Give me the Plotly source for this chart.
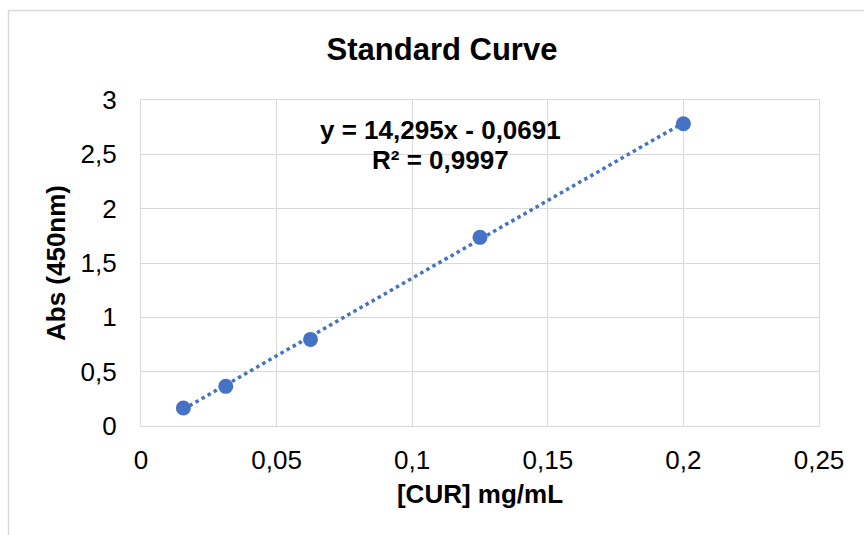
import plotly.graph_objects as go

# Data
conc_mg_ml = [0.015625, 0.03125, 0.0625, 0.125, 0.2]
abs_450 = [0.166, 0.365, 0.797, 1.736, 2.782]

# Linear trendline coefficients shown on the chart
trend_slope = 14.295
trend_intercept = -0.0691
r_squared = 0.9997

x_tickvals = [0, 0.05, 0.1, 0.15, 0.2, 0.25]
x_ticktext = ["0", "0,05", "0,1", "0,15", "0,2", "0,25"]
y_tickvals = [0, 0.5, 1, 1.5, 2, 2.5, 3]
y_ticktext = ["0", "0,5", "1", "1,5", "2", "2,5", "3"]

FONT = "Liberation Sans, Arial, sans-serif"
BLUE = "#4472C4"
GRID = "#D9D9D9"

trend_x = [min(conc_mg_ml), max(conc_mg_ml)]
trend_y = [trend_slope * v + trend_intercept for v in trend_x]

fig = go.Figure()
fig.add_trace(go.Scatter(
    x=trend_x, y=trend_y, mode="lines",
    line=dict(color=BLUE, width=3.5, dash="dot"),
    hoverinfo="skip", showlegend=False,
))
fig.add_trace(go.Scatter(
    x=conc_mg_ml, y=abs_450, mode="markers",
    marker=dict(color=BLUE, size=15, line=dict(width=0)),
    showlegend=False,
))

def fmt(v, nd):
    return f"{v:.{nd}f}".replace(".", ",")

eq_text = f"y = {fmt(trend_slope, 3)}x - {fmt(abs(trend_intercept), 4)}"
r2_text = f"R² = {fmt(r_squared, 4)}"

fig.add_annotation(x=0.1105, y=2.72, xref="x", yref="y", text=f"<b>{eq_text}</b>",
                   showarrow=False, font=dict(family=FONT, size=26, color="#000000"))
fig.add_annotation(x=0.1105, y=2.445, xref="x", yref="y", text=f"<b>{r2_text}</b>",
                   showarrow=False, font=dict(family=FONT, size=26, color="#000000"))

# Outer chart border (only left and top visible in the crop)
pw, ph = 678, 326
left_px, top_px = 141, 100
bx = (8.5 - left_px) / pw
by = ((top_px + ph) - 10.5) / ph
fig.add_shape(type="line", xref="paper", yref="paper", x0=bx, x1=2, y0=by, y1=by,
              line=dict(color=GRID, width=1.5))
fig.add_shape(type="line", xref="paper", yref="paper", x0=bx, x1=bx, y0=-1, y1=by,
              line=dict(color=GRID, width=1.5))

fig.update_layout(
    width=864, height=535,
    margin=dict(l=141, r=45, t=100, b=109),
    paper_bgcolor="white", plot_bgcolor="white",
    title=dict(text="<b>Standard Curve</b>", x=442 / 864, xanchor="center",
               y=1 - 49 / 535, yanchor="middle",
               font=dict(family=FONT, size=31, color="#000000")),
    font=dict(family=FONT, color="#000000"),
)
fig.update_xaxes(
    range=[0, 0.25], tickvals=x_tickvals, ticktext=x_ticktext,
    showgrid=True, gridcolor=GRID, gridwidth=1.3,
    showline=True, linecolor=GRID, linewidth=1.3, mirror=True,
    zeroline=False,
    ticks="outside", ticklen=11, tickcolor="rgba(0,0,0,0)",
    tickfont=dict(family=FONT, size=26, color="#000000"),
    title=dict(text="<b>[CUR] mg/mL</b>", standoff=10,
               font=dict(family=FONT, size=26, color="#000000")),
)
fig.update_yaxes(
    range=[0, 3], tickvals=y_tickvals, ticktext=y_ticktext,
    showgrid=True, gridcolor=GRID, gridwidth=1.3,
    showline=True, linecolor=GRID, linewidth=1.3, mirror=True,
    zeroline=False,
    ticks="outside", ticklen=18, tickcolor="rgba(0,0,0,0)",
    tickfont=dict(family=FONT, size=26, color="#000000"),
    title=dict(text="<b>Abs (450nm)</b>", standoff=7,
               font=dict(family=FONT, size=26, color="#000000")),
)

fig.write_html("out.html")
